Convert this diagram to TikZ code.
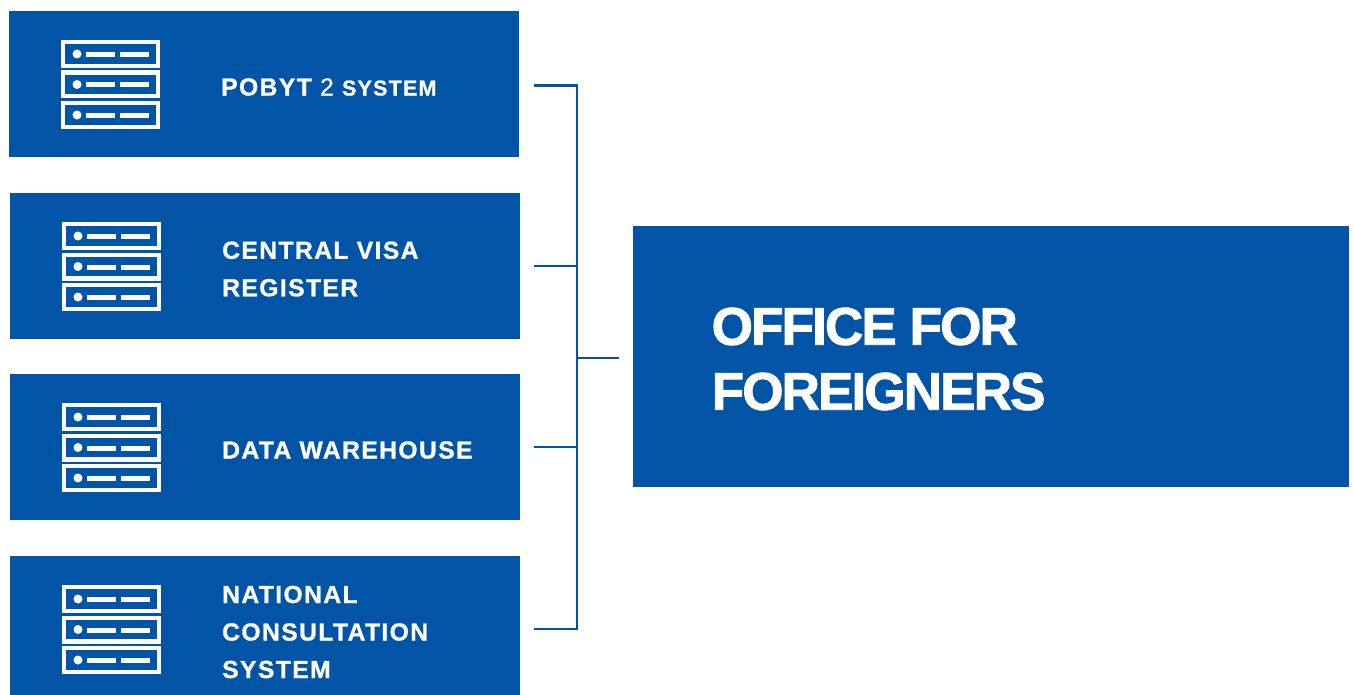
\documentclass[tikz,border=0pt]{standalone}
\usepackage{fontspec}
\setmainfont{Liberation Sans}
\newfontface\labelfont[LetterSpace=5.6,FakeBold=1]{Liberation Sans Bold}
\newfontface\plainlabelfont[LetterSpace=5.6,FakeBold=0.5]{Liberation Sans}
\newfontface\bigfont[LetterSpace=-3.5,FakeBold=1.8]{Liberation Sans Bold}
\usetikzlibrary{positioning}
\definecolor{officeblue}{RGB}{2,84,166}

\tikzset{
  sysbox/.style={fill=officeblue,minimum width=510pt,minimum height=146pt,inner sep=0pt,outer sep=0pt},
  officebox/.style={fill=officeblue,minimum width=716pt,minimum height=261pt,inner sep=0pt,outer sep=0pt},
  syslabel/.style={text=white,anchor=west,align=left,inner sep=0pt,font=\fontsize{24.7}{37.5}\labelfont},
  officelabel/.style={text=white,anchor=west,align=left,inner sep=0pt,font=\fontsize{53}{65}\bigfont},
  link/.style={draw=officeblue,line width=2.8pt},
  pics/serverrack/.style={code={
    \foreach \y in {0,30.5,61} {
      \draw[white,line width=4.4pt] (2.2,\y+2.2) rectangle (96.8,\y+25.8);
      \fill[white] (16,\y+14) circle (4.5);
      \fill[white] (25,\y+12) rectangle (54,\y+17);
      \fill[white] (59,\y+12) rectangle (88,\y+17);
    }
  }}
}

\begin{document}
\begin{tikzpicture}[x=1pt,y=-1pt]
    \useasboundingbox (0,0) rectangle (1354,695);

    \node[sysbox] (pobyt) at (264,84) {};
    \node[sysbox] (visa) at (265,266) {};
    \node[sysbox] (warehouse) at (265,447) {};
    \node[sysbox,minimum height=139pt] (consult) at (265,625.5) {};
    \node[officebox] (office) at (991,356.5) {};

    \pic at (61,40) {serverrack};
    \pic at (62,222) {serverrack};
    \pic at (62,403) {serverrack};
    \pic at (62,585) {serverrack};

    \node[syslabel] (pobytlabel) at (221,87) {POBYT {\plainlabelfont 2} {\fontsize{21.5}{21}\labelfont SYSTEM}};
    \node[syslabel] (visalabel) at (222,269) {CENTRAL VISA\\REGISTER};
    \node[syslabel] (warehouselabel) at (222,450) {DATA WAREHOUSE};
    \node[syslabel] (consultlabel) at (222,632) {NATIONAL\\CONSULTATION\\SYSTEM};
    \node[officelabel] (officelabel) at (711.5,359) {OFFICE FOR\\FOREIGNERS};

    \coordinate (pobytend) at (534,85.5);
    \coordinate (visaend) at (534,266);
    \coordinate (warehouseend) at (534,447);
    \coordinate (consultend) at (534,629);
    \coordinate (officeend) at (619,358);
    \coordinate (bus) at (577,358);

    \draw[link] (pobytend) -| (bus);
    \draw[link] (consultend) -| (bus);
    \draw[link] (visaend) -- (visaend -| bus);
    \draw[link] (warehouseend) -- (warehouseend -| bus);
    \draw[link] (bus) -- (officeend);
\end{tikzpicture}
\end{document}
